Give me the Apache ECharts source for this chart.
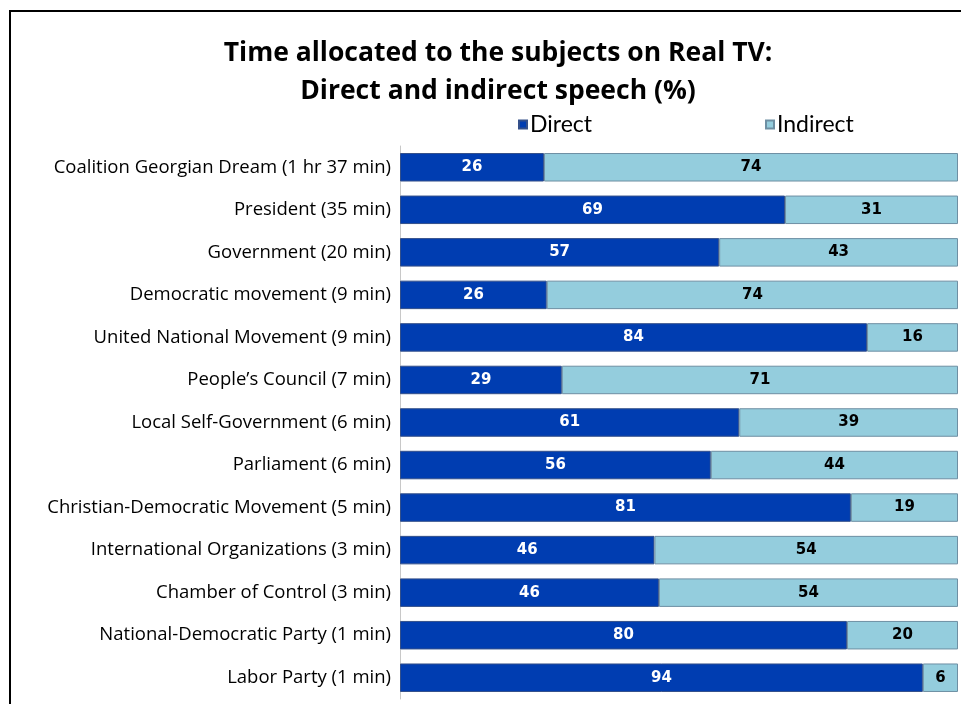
<!DOCTYPE html>
<html>
<head>
<meta charset="utf-8">
<script src="https://cdn.jsdelivr.net/npm/echarts@6/dist/echarts.min.js"></script>
<style>
html,body{margin:0;padding:0;background:#fff;}
#chart{width:961px;height:704px;}
</style>
</head>
<body>
<div id="chart"></div>
<script>
const categories = [
  "Coalition Georgian Dream (1 hr 37 min)",
  "President (35 min)",
  "Government (20 min)",
  "Democratic movement (9 min)",
  "United National Movement (9 min)",
  "People\u2019s Council (7 min)",
  "Local Self-Government (6 min)",
  "Parliament (6 min)",
  "Christian-Democratic Movement (5 min)",
  "International Organizations (3 min)",
  "Chamber of Control (3 min)",
  "National-Democratic Party (1 min)",
  "Labor Party (1 min)"
];
const directValues   = [25.8, 69.0, 57.2, 26.3, 83.7, 29.0, 60.8, 55.7, 80.8, 45.6, 46.4, 80.1, 93.7];
const indirectValues = [74.2, 31.0, 42.8, 73.7, 16.3, 71.0, 39.2, 44.3, 19.2, 54.4, 53.6, 19.9, 6.3];
const seriesNames = ["Direct", "Indirect"];
const titleLines = ["Time allocated to the subjects on Real TV:", "Direct and indirect speech (%)"];

const chart = echarts.init(document.getElementById('chart'), null, {renderer: 'canvas'});
const labelFont = {fontFamily: 'DejaVu Sans', fontWeight: 'bold', fontSize: 15};
chart.setOption({
  animation: false,
  backgroundColor: '#ffffff',
  title: {
    text: titleLines.join('\n'),
    left: 493, top: 29, textAlign: 'center',
    textStyle: {fontFamily: 'Open Sans', fontWeight: 'bold', fontSize: 26.5, lineHeight: 38, color: '#000'}
  },
  legend: [
    {data: [seriesNames[0]], left: 513, top: 108, icon: 'rect', itemWidth: 8, itemHeight: 8, itemGap: 4,
     textStyle: {fontFamily: 'Lato', fontSize: 23, color: '#000', padding: [0,0,0,-2]}},
    {data: [seriesNames[1]], left: 760, top: 108, icon: 'rect', itemWidth: 8, itemHeight: 8, itemGap: 4,
     textStyle: {fontFamily: 'Lato', fontSize: 23, color: '#000', padding: [0,0,0,-2]}}
  ],
  grid: {left: 400, right: 3, top: 146, bottom: 5, containLabel: false},
  xAxis: {type: 'value', min: 0, max: 100, show: false},
  yAxis: {
    type: 'category', data: categories, inverse: true,
    axisLine: {show: true, lineStyle: {color: '#c8c8c8', width: 1}},
    axisTick: {show: false},
    axisLabel: {margin: 9, fontFamily: 'Open Sans', fontSize: 18.5, color: '#000'}
  },
  series: [
    {
      name: seriesNames[0], type: 'bar', stack: 'total', data: directValues, barWidth: '67%',
      itemStyle: {color: '#003db1', borderColor: '#34508a', borderWidth: 1},
      label: Object.assign({show: true, position: 'inside', color: '#ffffff',
        formatter: p => Math.round(p.value)}, labelFont)
    },
    {
      name: seriesNames[1], type: 'bar', stack: 'total', data: indirectValues, barWidth: '67%',
      itemStyle: {color: '#94cddd', borderColor: '#6e8fa3', borderWidth: 1},
      label: Object.assign({show: true, position: 'inside', color: '#000000',
        formatter: p => Math.round(p.value)}, labelFont)
    }
  ],
  graphic: [
    {type: 'polyline', shape: {points: [[10, 704], [10, 11], [961, 11]]},
     style: {stroke: '#000', lineWidth: 2, fill: null}, z: 100}
  ]
});
</script>
</body>
</html>
